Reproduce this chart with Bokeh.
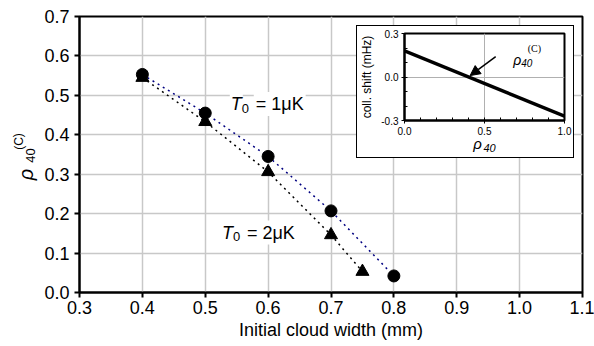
from bokeh.plotting import figure
from bokeh.models import (FixedTicker, PrintfTickFormatter, Label, Arrow, NormalHead,
                          Range1d)
from bokeh.embed import file_html
from bokeh.resources import INLINE

FONT = "Liberation Sans"

# ---- main data ----
width_1uK = [0.4, 0.5, 0.6, 0.7, 0.8]
rho_1uK = [0.553, 0.455, 0.345, 0.207, 0.042]
width_2uK = [0.4, 0.5, 0.6, 0.7, 0.75]
rho_2uK = [0.545, 0.433, 0.306, 0.146, 0.053]
x_ticks = [0.3, 0.4, 0.5, 0.6, 0.7, 0.8, 0.9, 1.0, 1.1]
y_ticks = [0.0, 0.1, 0.2, 0.3, 0.4, 0.5, 0.6, 0.7]

# ---- inset data ----
inset_rho = [0.0, 1.0]
inset_shift = [0.18, -0.27]
inset_x_ticks = [0.0, 0.5, 1.0]
inset_y_ticks = [-0.3, 0.0, 0.3]

p = figure(width=594, height=346, x_range=Range1d(0.3, 1.1), y_range=Range1d(0.0, 0.7),
           output_backend="svg", toolbar_location=None,
           min_border_left=79, min_border_right=12, min_border_top=16, min_border_bottom=54)
p.background_fill_color = "white"
p.border_fill_color = "white"
p.outline_line_color = "black"
p.outline_line_width = 2
for ax in (p.xaxis[0], p.yaxis[0]):
    ax.axis_line_width = 2
    ax.major_tick_line_width = 2
    ax.major_tick_in = 0
    ax.major_tick_out = 5
    ax.minor_tick_line_color = None
    ax.major_label_text_font = FONT
    ax.major_label_text_font_size = "18px"
    ax.major_label_text_color = "black"
    ax.formatter = PrintfTickFormatter(format="%.1f")
p.xaxis.ticker = FixedTicker(ticks=x_ticks)
p.yaxis.ticker = FixedTicker(ticks=y_ticks)
p.xaxis.axis_label = "Initial cloud width (mm)"
p.xaxis.axis_label_text_font = FONT
p.xaxis.axis_label_text_font_style = "normal"
p.xaxis.axis_label_text_font_size = "18px"
p.xaxis.axis_label_text_color = "black"
p.xaxis.axis_label_standoff = 3
p.xaxis.major_label_standoff = 3
p.yaxis.major_label_standoff = 5
p.grid.grid_line_color = "#c8c8c8"
p.grid.grid_line_width = 1.5
p.xgrid.ticker = FixedTicker(ticks=x_ticks)
p.ygrid.ticker = FixedTicker(ticks=y_ticks)

p.line(width_1uK, rho_1uK, line_color="navy", line_dash="2 4", line_width=1.5)
p.line(width_2uK, rho_2uK, line_color="black", line_dash="2 4", line_width=1.5)
p.scatter(width_1uK, rho_1uK, marker="circle", size=12, color="black")
p.scatter(width_2uK, rho_2uK, marker="triangle", size=13, color="black")

# T0 labels
def t_label(x, y, rest):
    p.add_layout(Label(x=x, y=y, text=rest, x_offset=24, text_font=FONT,
                       text_font_size="18px", text_baseline="middle", text_color="black",
                       background_fill_color="white", padding=2))
    p.add_layout(Label(x=x, y=y, text="T", text_font=FONT, text_font_style="italic",
                       text_font_size="18px", text_baseline="middle", text_color="black",
                       background_fill_color="white", padding=1))
    p.add_layout(Label(x=x, y=y, x_offset=12, y_offset=-4, text="0", text_font=FONT,
                       text_font_size="13px", text_baseline="middle", text_color="black"))

t_label(0.539, 0.478, "= 1\u03bcK")
t_label(0.525, 0.152, "= 2\u03bcK")

# ---- inset ----
q = figure(frame_width=160, frame_height=87, x_range=Range1d(0.0, 1.0), y_range=Range1d(-0.3, 0.3),
           output_backend="svg", toolbar_location=None,
           min_border_left=47, min_border_right=9, min_border_top=7, min_border_bottom=37,
           styles={"position": "absolute", "left": "356px", "top": "25px",
                   "border": "1px solid black", "background": "white"})
q.background_fill_color = "white"
q.border_fill_color = "white"
q.outline_line_color = "black"
q.outline_line_width = 2
for ax in (q.xaxis[0], q.yaxis[0]):
    ax.axis_line_width = 2
    ax.major_tick_in = 2
    ax.major_tick_out = 3
    ax.minor_tick_in = 3
    ax.minor_tick_out = 0
    ax.major_label_text_font = FONT
    ax.major_label_text_font_size = "10px"
    ax.major_label_text_color = "black"
    ax.major_label_standoff = 3
    ax.formatter = PrintfTickFormatter(format="%.1f")
q.xaxis.ticker = FixedTicker(ticks=inset_x_ticks, minor_ticks=[i / 10 for i in range(11)])
q.yaxis.ticker = FixedTicker(ticks=inset_y_ticks, minor_ticks=[(i - 3) / 10 for i in range(7)])
q.grid.grid_line_color = "#b0b0b0"
q.grid.grid_line_width = 1
q.xgrid.ticker = FixedTicker(ticks=[0.5])
q.ygrid.ticker = FixedTicker(ticks=[0.0])
q.yaxis.axis_label = "coll. shift (mHz)"
q.yaxis.axis_label_text_font = FONT
q.yaxis.axis_label_text_font_style = "normal"
q.yaxis.axis_label_text_font_size = "12px"
q.yaxis.axis_label_text_color = "black"
q.yaxis.axis_label_standoff = 4
q.line(inset_rho, inset_shift, line_color="black", line_width=3.5)

# annotation rho_40^(C)
q.add_layout(Label(x=0.68, y=0.12, text="\u03c1", text_font=FONT, text_color="black",
                   text_font_style="italic", text_font_size="14px", text_baseline="middle"))
q.add_layout(Label(x=0.68, y=0.12, x_offset=8, y_offset=-3, text="40", text_font=FONT,
                   text_color="black", text_font_style="italic", text_font_size="10px",
                   text_baseline="middle"))
q.add_layout(Label(x=0.77, y=0.195, text="(C)", text_font="Liberation Serif",
                   text_color="black", text_font_size="10px", text_baseline="middle"))
q.add_layout(Arrow(x_start=0.57, y_start=0.14, x_end=0.41, y_end=0.01,
                   line_width=1.5, line_color="black",
                   end=NormalHead(size=10, fill_color="black", line_color="black")))


# ---- transparent overlays carrying the composite axis labels ----
def overlay(left, top, w, h):
    f = figure(width=w, height=h, x_range=Range1d(0, w), y_range=Range1d(0, h),
               output_backend="svg", toolbar_location=None, min_border=0,
               x_axis_location=None, y_axis_location=None,
               styles={"position": "absolute", "left": f"{left}px", "top": f"{top}px"})
    f.outline_line_color = None
    f.background_fill_color = None
    f.border_fill_color = None
    f.grid.visible = False
    return f

ylab = overlay(5, 125, 35, 60)
ylab.add_layout(Label(x=20, y=11, text="\u03c1", text_font=FONT, text_font_style="italic",
                      text_font_size="20px", angle=1.5708, text_align="center",
                      text_baseline="middle", text_color="black"))
ylab.add_layout(Label(x=25, y=30, text="40", text_font=FONT, text_font_size="13px",
                      angle=1.5708, text_align="center", text_baseline="middle",
                      text_color="black"))
ylab.add_layout(Label(x=13, y=44, text="(C)", text_font=FONT, text_font_size="12px",
                      angle=1.5708, text_align="center", text_baseline="middle",
                      text_color="black"))

xlab = overlay(460, 132, 50, 22)
xlab.add_layout(Label(x=17, y=11, text="\u03c1", text_font=FONT, text_font_style="italic",
                      text_font_size="15px", text_align="center", text_baseline="middle",
                      text_color="black"))
xlab.add_layout(Label(x=29, y=7, text="40", text_font=FONT, text_font_style="italic",
                      text_font_size="11px", text_align="center", text_baseline="middle",
                      text_color="black"))

open("out.html", "w").write(file_html([p, q, ylab, xlab], INLINE))
